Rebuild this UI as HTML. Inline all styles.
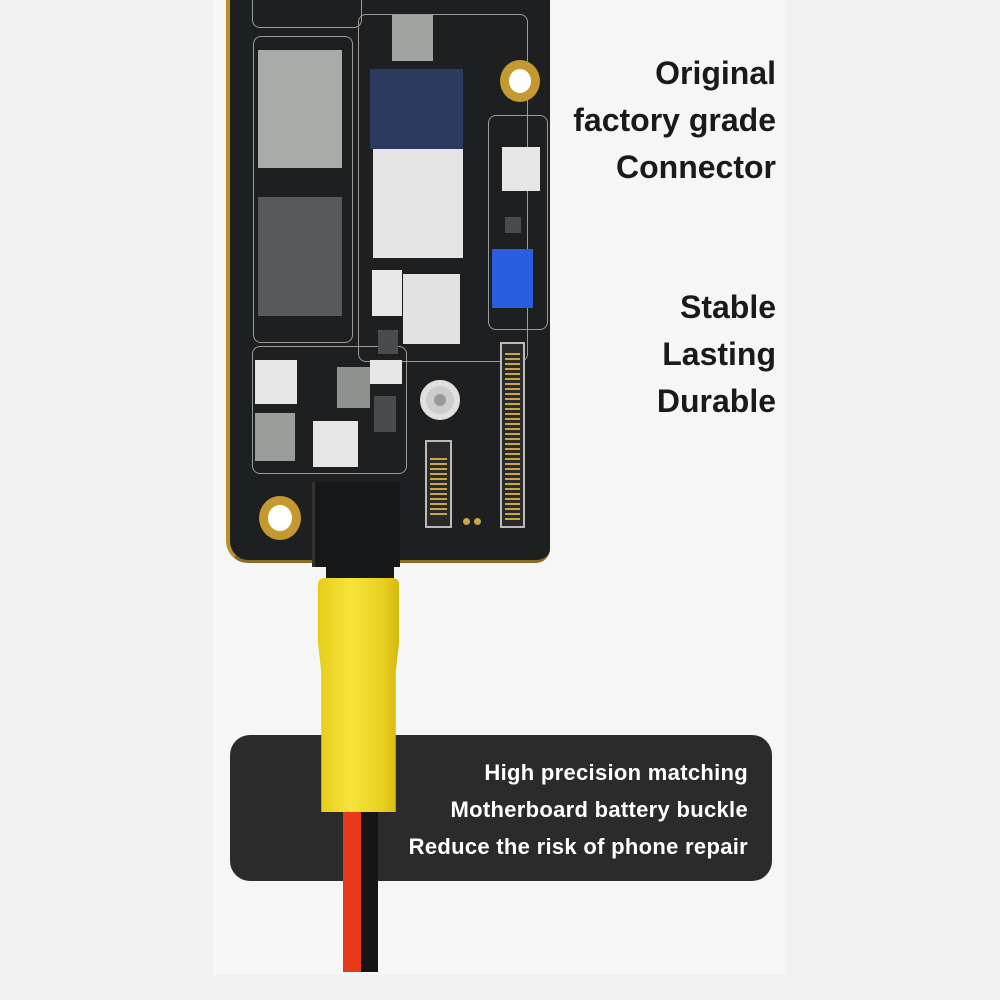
<!DOCTYPE html>
<html><head><meta charset="utf-8"><style>
*{margin:0;padding:0;box-sizing:border-box}
body{width:1000px;height:1000px;background:#f1f1f1;position:relative;overflow:hidden;font-family:"Liberation Sans",sans-serif}
.a{position:absolute}
.col{left:213px;top:0;width:572px;height:975px;background:#f6f6f6}
.board{left:226px;top:-20px;width:324px;height:583px;background:#1e1f21;border-radius:0 0 14px 22px;border-left:4px solid #b8912a;border-bottom:3px solid #8a6c20}
.ln{position:absolute;border:1.5px solid #9a9a9a;border-radius:8px}
.ch{position:absolute}
.t{position:absolute;right:224px;font-weight:bold;font-size:32px;color:#1a1a1a;text-align:right;line-height:47px}
.box{left:230px;top:735px;width:542px;height:146px;background:#2b2b2b;border-radius:20px}
.bt{position:absolute;right:252px;color:#fff;font-size:22px;font-weight:bold;letter-spacing:0.3px;text-align:right;line-height:37px;top:754px}
.pads{position:absolute}
</style></head><body>
<div class="a col"></div>
<div class="a board"></div>
<div class="ln" style="left:252px;top:-10px;width:110px;height:38px"></div>
<div class="ln" style="left:253px;top:36px;width:100px;height:307px"></div>
<div class="ln" style="left:358px;top:14px;width:170px;height:348px"></div>
<div class="ln" style="left:488px;top:115px;width:60px;height:215px"></div>
<div class="ln" style="left:252px;top:346px;width:155px;height:128px"></div>
<div class="ch" style="left:258px;top:50px;width:84px;height:118px;background:#a8aca8"></div>
<div class="ch" style="left:258px;top:197px;width:84px;height:119px;background:#58595b"></div>
<div class="ch" style="left:392px;top:15px;width:41px;height:46px;background:#a0a4a0"></div>
<div class="ch" style="left:370px;top:69px;width:93px;height:80px;background:#2d3a5f"></div>
<div class="ch" style="left:373px;top:149px;width:90px;height:109px;background:#e4e4e4"></div>
<div class="ch" style="left:372px;top:270px;width:30px;height:46px;background:#e8e8e8"></div>
<div class="ch" style="left:403px;top:274px;width:57px;height:70px;background:#e2e2e2"></div>
<div class="ch" style="left:502px;top:147px;width:38px;height:44px;background:#e6e6e6"></div>
<div class="ch" style="left:492px;top:249px;width:41px;height:59px;background:#2a5ee0"></div>
<div class="ch" style="left:505px;top:217px;width:16px;height:16px;background:#4a4b4d"></div>
<div class="ch" style="left:255px;top:360px;width:42px;height:44px;background:#e6e6e6"></div>
<div class="ch" style="left:255px;top:413px;width:40px;height:48px;background:#9a9e9a"></div>
<div class="ch" style="left:313px;top:421px;width:45px;height:46px;background:#e6e6e6"></div>
<div class="ch" style="left:337px;top:367px;width:33px;height:41px;background:#8e928e"></div>
<div class="ch" style="left:370px;top:360px;width:32px;height:24px;background:#e6e6e6"></div>
<div class="ch" style="left:374px;top:396px;width:22px;height:36px;background:#4a4b4d"></div>
<div class="ch" style="left:378px;top:330px;width:20px;height:24px;background:#4a4b4d"></div>
<div class="ch" style="left:500px;top:60px;width:40px;height:42px;border-radius:50%;background:#fff;border:9px solid #c49a30"></div>
<div class="ch" style="left:259px;top:496px;width:42px;height:44px;border-radius:50%;background:#fff;border:9px solid #c49a30"></div>
<div class="ch" style="left:420px;top:380px;width:40px;height:40px;border-radius:50%;background:#ccc;border:6px solid #e0e0e0"></div>
<div class="ch" style="left:434px;top:394px;width:12px;height:12px;border-radius:50%;background:#999"></div>
<div class="ch" style="left:500px;top:342px;width:25px;height:186px;border:2px solid #bbb;background:#2a2a2a"></div>
<div class="pads" style="left:505px;top:350px;width:15px;height:170px;background:repeating-linear-gradient(0deg,#c9a64a 0 2px,transparent 2px 5px)"></div>
<div class="ch" style="left:425px;top:440px;width:27px;height:88px;border:2px solid #bbb;background:#2a2a2a"></div>
<div class="pads" style="left:430px;top:455px;width:17px;height:60px;background:repeating-linear-gradient(0deg,#c9a64a 0 2px,transparent 2px 5px)"></div>
<div class="ch" style="left:463px;top:518px;width:7px;height:7px;border-radius:50%;background:#c9a64a"></div>
<div class="ch" style="left:474px;top:518px;width:7px;height:7px;border-radius:50%;background:#c9a64a"></div>
<div class="ch" style="left:312px;top:482px;width:88px;height:85px;background:#17181a;border-left:3px solid #333"></div>
<div class="ch" style="left:326px;top:560px;width:68px;height:22px;background:#17181a"></div>
<div class="t" style="top:50px">Original<br>factory grade<br>Connector</div>
<div class="t" style="top:284px">Stable<br>Lasting<br>Durable</div>
<div class="a box"></div>
<div class="bt">High precision matching<br>Motherboard battery buckle<br>Reduce the risk of phone repair</div>
<div class="ch" style="left:343px;top:790px;width:18px;height:182px;background:#e83a1a"></div>
<div class="ch" style="left:361px;top:790px;width:17px;height:182px;background:#151515"></div>
<div class="ch" style="left:318px;top:578px;width:81px;height:234px;background:linear-gradient(90deg,#e6cc18,#f6e43a 40%,#e8cf20 80%,#d4ba10);border-radius:6px 6px 3px 3px;clip-path:polygon(0 0,100% 0,100% 28%,96% 40%,96% 100%,4% 100%,4% 40%,0 28%)"></div>
</body></html>
